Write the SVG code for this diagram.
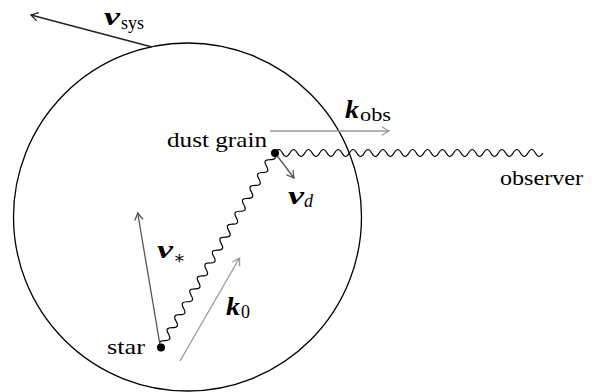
<svg xmlns="http://www.w3.org/2000/svg" width="592" height="392" viewBox="0 0 592 392">
<style>
.t{font-size:22px;fill:#000}
.m{font-size:26px;font-weight:bold;font-style:italic;fill:#000}
.s{font-size:18px;fill:#000}
.si{font-size:18px;font-style:italic;fill:#000}
.wave{fill:none;stroke:#000;stroke-width:1.2}
.a1{stroke:#222;stroke-width:1.3;fill:none}
.a2{stroke:#555;stroke-width:1.3;fill:none}
.a3{stroke:#999;stroke-width:1.3;fill:none}
</style>
<defs>
<marker id="h1" markerUnits="userSpaceOnUse" markerWidth="14" markerHeight="14" refX="0" refY="0" viewBox="-8 -7 14 14" orient="auto"><path d="M-7,-4.2 Q-2,-1 0,0 Q-2,1 -7,4.2" stroke="#222" stroke-width="1.3" fill="none"/></marker>
<marker id="h2" markerUnits="userSpaceOnUse" markerWidth="14" markerHeight="14" refX="0" refY="0" viewBox="-8 -7 14 14" orient="auto"><path d="M-7,-4.2 Q-2,-1 0,0 Q-2,1 -7,4.2" stroke="#555" stroke-width="1.3" fill="none"/></marker>
<marker id="h3" markerUnits="userSpaceOnUse" markerWidth="14" markerHeight="14" refX="0" refY="0" viewBox="-8 -7 14 14" orient="auto"><path d="M-7,-4.2 Q-2,-1 0,0 Q-2,1 -7,4.2" stroke="#999" stroke-width="1.3" fill="none"/></marker>
</defs>
<g id="system"><circle cx="187.5" cy="217" r="174" fill="none" stroke="#000" stroke-width="1.3"/></g>
<g id="connectors">
<path class="wave" d="M275 153 c2.68 -4.67 4.76 -4.67 7.44 0 c2.68 4.67 4.76 4.67 7.44 0 c2.68 -4.67 4.76 -4.67 7.44 0 c2.68 4.67 4.76 4.67 7.44 0 c2.68 -4.67 4.76 -4.67 7.44 0 c2.68 4.67 4.76 4.67 7.44 0 c2.68 -4.67 4.76 -4.67 7.44 0 c2.68 4.67 4.76 4.67 7.44 0 c2.68 -4.67 4.76 -4.67 7.44 0 c2.68 4.67 4.76 4.67 7.44 0 c2.68 -4.67 4.76 -4.67 7.44 0 c2.68 4.67 4.76 4.67 7.44 0 c2.68 -4.67 4.76 -4.67 7.44 0 c2.68 4.67 4.76 4.67 7.44 0 c2.68 -4.67 4.76 -4.67 7.44 0 c2.68 4.67 4.76 4.67 7.44 0 c2.68 -4.67 4.76 -4.67 7.44 0 c2.68 4.67 4.76 4.67 7.44 0 c2.68 -4.67 4.76 -4.67 7.44 0 c2.68 4.67 4.76 4.67 7.44 0 c2.68 -4.67 4.76 -4.67 7.44 0 c2.68 4.67 4.76 4.67 7.44 0 c2.68 -4.67 4.76 -4.67 7.44 0 c2.68 4.67 4.76 4.67 7.44 0 c2.68 -4.67 4.76 -4.67 7.44 0 c2.68 4.67 4.76 4.67 7.44 0 c2.68 -4.67 4.76 -4.67 7.44 0 c2.68 4.67 4.76 4.67 7.44 0 c2.68 -4.67 4.76 -4.67 7.44 0 c2.68 4.67 4.76 4.67 7.44 0 c2.68 -4.67 4.76 -4.67 7.44 0 c2.68 4.67 4.76 4.67 7.44 0 c2.68 -4.67 4.76 -4.67 7.44 0 c2.68 4.67 4.76 4.67 7.44 0 c2.68 -4.67 4.76 -4.67 7.44 0 c2.68 4.67 4.76 4.67 7.44 0"/>
<path class="wave" transform="translate(161,347) rotate(-59.78)" d="M0 0 c2.69 -4.67 4.79 -4.67 7.48 0 c2.69 4.67 4.79 4.67 7.48 0 c2.69 -4.67 4.79 -4.67 7.48 0 c2.69 4.67 4.79 4.67 7.48 0 c2.69 -4.67 4.79 -4.67 7.48 0 c2.69 4.67 4.79 4.67 7.48 0 c2.69 -4.67 4.79 -4.67 7.48 0 c2.69 4.67 4.79 4.67 7.48 0 c2.69 -4.67 4.79 -4.67 7.48 0 c2.69 4.67 4.79 4.67 7.48 0 c2.69 -4.67 4.79 -4.67 7.48 0 c2.69 4.67 4.79 4.67 7.48 0 c2.69 -4.67 4.79 -4.67 7.48 0 c2.69 4.67 4.79 4.67 7.48 0 c2.69 -4.67 4.79 -4.67 7.48 0 c2.69 4.67 4.79 4.67 7.48 0 c2.69 -4.67 4.79 -4.67 7.48 0 c2.69 4.67 4.79 4.67 7.48 0 c2.69 -4.67 4.79 -4.67 7.48 0 c2.69 4.67 4.79 4.67 7.48 0 c2.69 -4.67 4.79 -4.67 7.48 0 c2.69 4.67 4.79 4.67 7.48 0 c2.69 -4.67 4.79 -4.67 7.48 0 c2.69 4.67 4.79 4.67 7.48 0 c2.69 -4.67 4.79 -4.67 7.48 0 c2.69 4.67 4.79 4.67 7.48 0 c2.69 -4.67 4.79 -4.67 7.48 0 c2.69 4.67 4.79 4.67 7.48 0 c2.69 -4.67 4.79 -4.67 7.48 0 c2.69 4.67 4.79 4.67 7.48 0"/>
<line class="a1" x1="152" y1="47" x2="31" y2="15" marker-end="url(#h1)"/>
<line class="a3" x1="270" y1="131" x2="389" y2="131" marker-end="url(#h3)"/>
<line class="a2" x1="275" y1="153" x2="294" y2="178" marker-end="url(#h2)"/>
<line class="a2" x1="160" y1="345" x2="137.7" y2="213" marker-end="url(#h2)"/>
<line class="a3" x1="180" y1="361" x2="239.5" y2="258" marker-end="url(#h3)"/>
</g>
<g font-family="Liberation Serif, Times New Roman, DejaVu Serif, serif">
<g id="dust-grain"><circle cx="275" cy="153" r="4" fill="#000"/><text class="t" x="167" y="147" textLength="100" lengthAdjust="spacingAndGlyphs">dust grain</text></g>
<g id="star"><circle cx="161" cy="347.5" r="4" fill="#000"/><text class="t" x="107" y="354" textLength="38" lengthAdjust="spacingAndGlyphs">star</text></g>
<g id="observer"><text class="t" x="500" y="185" textLength="83" lengthAdjust="spacingAndGlyphs">observer</text></g>
<g id="labels">
<text class="m" x="104" y="25" textLength="16" lengthAdjust="spacingAndGlyphs">v</text><text class="s" x="121" y="29" textLength="23" lengthAdjust="spacingAndGlyphs">sys</text>
<text class="m" x="345" y="118" textLength="14" lengthAdjust="spacingAndGlyphs">k</text><text class="s" x="360" y="121" textLength="31" lengthAdjust="spacingAndGlyphs">obs</text>
<text class="m" x="288" y="204" textLength="16" lengthAdjust="spacingAndGlyphs">v</text><text class="si" x="304" y="207">d</text>
<text class="m" x="157" y="258" textLength="16" lengthAdjust="spacingAndGlyphs">v</text><text class="s" x="173" y="264">∗</text>
<text class="m" x="226" y="315" textLength="14" lengthAdjust="spacingAndGlyphs">k</text><text class="s" x="241" y="318">0</text>
</g>
</g>
</svg>
